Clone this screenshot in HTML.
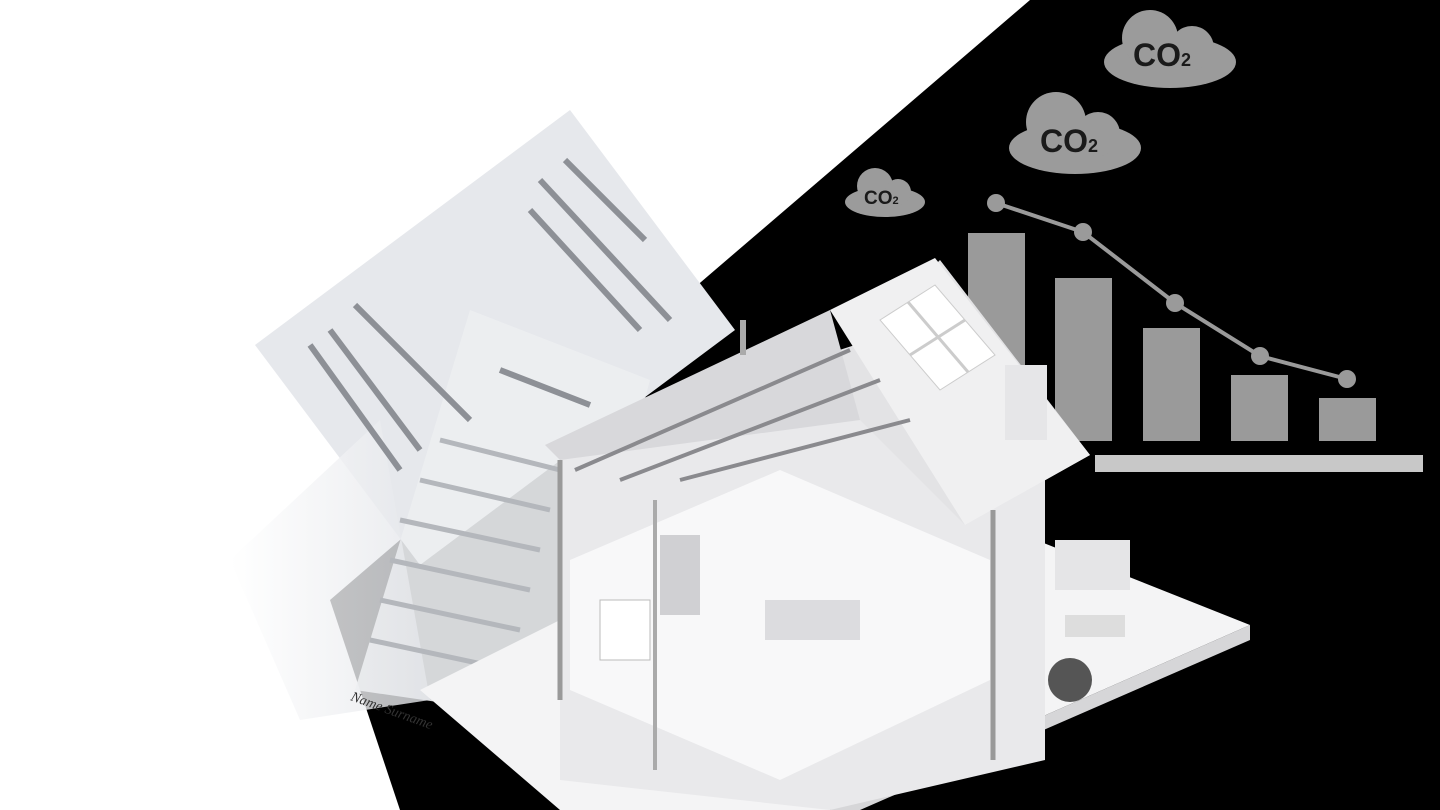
<!DOCTYPE html>
<html><head><meta charset="utf-8"><style>
html,body{margin:0;padding:0;background:#fff;}
svg{display:block}
</style></head><body>
<svg width="1440" height="810" viewBox="0 0 1440 810" xmlns="http://www.w3.org/2000/svg">
<defs>
<linearGradient id="fade" x1="0" y1="0" x2="1" y2="0">
<stop offset="0" stop-color="#fff" stop-opacity="1"/>
<stop offset="1" stop-color="#e4e6ea" stop-opacity="1"/>
</linearGradient>
</defs>
<rect width="1440" height="810" fill="#fff"/>
<polygon points="1030,0 1440,0 1440,810 400,810 330,600" fill="#000"/>
<!-- clouds -->
<g fill="#9b9b9b">
<ellipse cx="1170" cy="62" rx="66" ry="26"/><circle cx="1150" cy="38" r="28"/><circle cx="1192" cy="48" r="22"/>
<ellipse cx="1075" cy="148" rx="66" ry="26"/><circle cx="1056" cy="122" r="30"/><circle cx="1098" cy="134" r="22"/>
<ellipse cx="885" cy="202" rx="40" ry="15"/><circle cx="875" cy="186" r="18"/><circle cx="898" cy="192" r="13"/>
</g>
<g font-family="Liberation Sans,sans-serif" font-weight="bold" fill="#1a1a1a">
<text x="1133" y="66" font-size="32">CO<tspan font-size="18">2</tspan></text>
<text x="1040" y="152" font-size="32">CO<tspan font-size="18">2</tspan></text>
<text x="864" y="204" font-size="19">CO<tspan font-size="11">2</tspan></text>
</g>
<!-- bars -->
<g fill="#9a9a9a">
<rect x="968" y="233" width="57" height="208"/>
<rect x="1055" y="278" width="57" height="163"/>
<rect x="1143" y="328" width="57" height="113"/>
<rect x="1231" y="375" width="57" height="66"/>
<rect x="1319" y="398" width="57" height="43"/>
<rect x="1095" y="455" width="328" height="17" fill="#c8c8c8"/>
</g>
<polyline points="996,203 1083,232 1175,303 1260,356 1347,379" fill="none" stroke="#9a9a9a" stroke-width="4"/>
<g fill="#9a9a9a"><circle cx="996" cy="203" r="9"/><circle cx="1083" cy="232" r="9"/><circle cx="1175" cy="303" r="9"/><circle cx="1260" cy="356" r="9"/><circle cx="1347" cy="379" r="9"/></g>
<!-- papers -->
<polygon points="255,345 570,110 735,330 420,565" fill="#e6e8ec"/>
<polygon points="355,690 470,310 650,380 560,720" fill="#eceef1" opacity="0.9"/>
<polygon points="230,560 380,420 430,700 300,720" fill="url(#fade)" opacity="0.8"/>
<g stroke="#8d9096" stroke-width="6">
<line x1="565" y1="160" x2="645" y2="240"/><line x1="540" y1="180" x2="670" y2="320"/>
<line x1="530" y1="210" x2="640" y2="330"/><line x1="355" y1="305" x2="470" y2="420"/>
<line x1="330" y1="330" x2="420" y2="450"/><line x1="310" y1="345" x2="400" y2="470"/>
<line x1="500" y1="370" x2="590" y2="405"/>
</g>
<g stroke="#b4b7bc" stroke-width="5">
<line x1="440" y1="440" x2="560" y2="470"/><line x1="420" y1="480" x2="550" y2="510"/>
<line x1="400" y1="520" x2="540" y2="550"/><line x1="390" y1="560" x2="530" y2="590"/>
<line x1="380" y1="600" x2="520" y2="630"/><line x1="370" y1="640" x2="510" y2="670"/>
</g>
<text x="350" y="700" font-family="Liberation Serif,serif" font-style="italic" font-size="14" fill="#333" transform="rotate(20 350 700)">Name Surname</text>
<!-- house platform -->
<polygon points="420,690 860,470 1250,625 830,810 560,810" fill="#f4f4f5"/>
<polygon points="830,810 1250,625 1250,640 860,810" fill="#d6d6d8"/>
<!-- house walls -->
<polygon points="560,450 780,360 1045,480 1045,760 830,810 560,780" fill="#e9e9eb"/>
<polygon points="570,560 780,470 990,560 990,680 780,780 570,690" fill="#f8f8f9"/>
<rect x="660" y="535" width="40" height="80" fill="#d0d0d3"/>
<rect x="765" y="600" width="95" height="40" fill="#dcdcdf"/>
<rect x="600" y="600" width="50" height="60" fill="#fff" stroke="#bbb"/>
<!-- roof -->
<polygon points="545,445 855,345 940,260 1090,455 965,525 860,420" fill="#e3e3e5"/>
<polygon points="830,310 935,258 1090,455 965,525" fill="#f0f0f1"/>
<polygon points="545,445 830,310 860,420 560,460" fill="#d8d8db"/>
<g stroke="#8a8a8e" stroke-width="4">
<line x1="575" y1="470" x2="850" y2="350"/><line x1="620" y1="480" x2="880" y2="380"/>
<line x1="680" y1="480" x2="910" y2="420"/>
</g>
<g fill="#fff" stroke="#ccc"><polygon points="880,320 935,285 995,355 940,390"/></g>
<g stroke="#ccc" stroke-width="3"><line x1="908" y1="302" x2="968" y2="372"/><line x1="910" y1="355" x2="965" y2="320"/></g>
<rect x="1005" y="365" width="42" height="75" fill="#e6e6e8"/>
<rect x="740" y="320" width="6" height="35" fill="#aaa"/>
<line x1="993" y1="510" x2="993" y2="760" stroke="#999" stroke-width="5"/>
<line x1="560" y1="460" x2="560" y2="700" stroke="#999" stroke-width="5"/>
<line x1="655" y1="500" x2="655" y2="770" stroke="#aaa" stroke-width="4"/>
<!-- right platform items -->
<rect x="1055" y="540" width="75" height="50" fill="#e5e5e7"/>
<circle cx="1070" cy="680" r="22" fill="#555"/>
<rect x="1065" y="615" width="60" height="22" fill="#ddd"/>
</svg>
</body></html>
